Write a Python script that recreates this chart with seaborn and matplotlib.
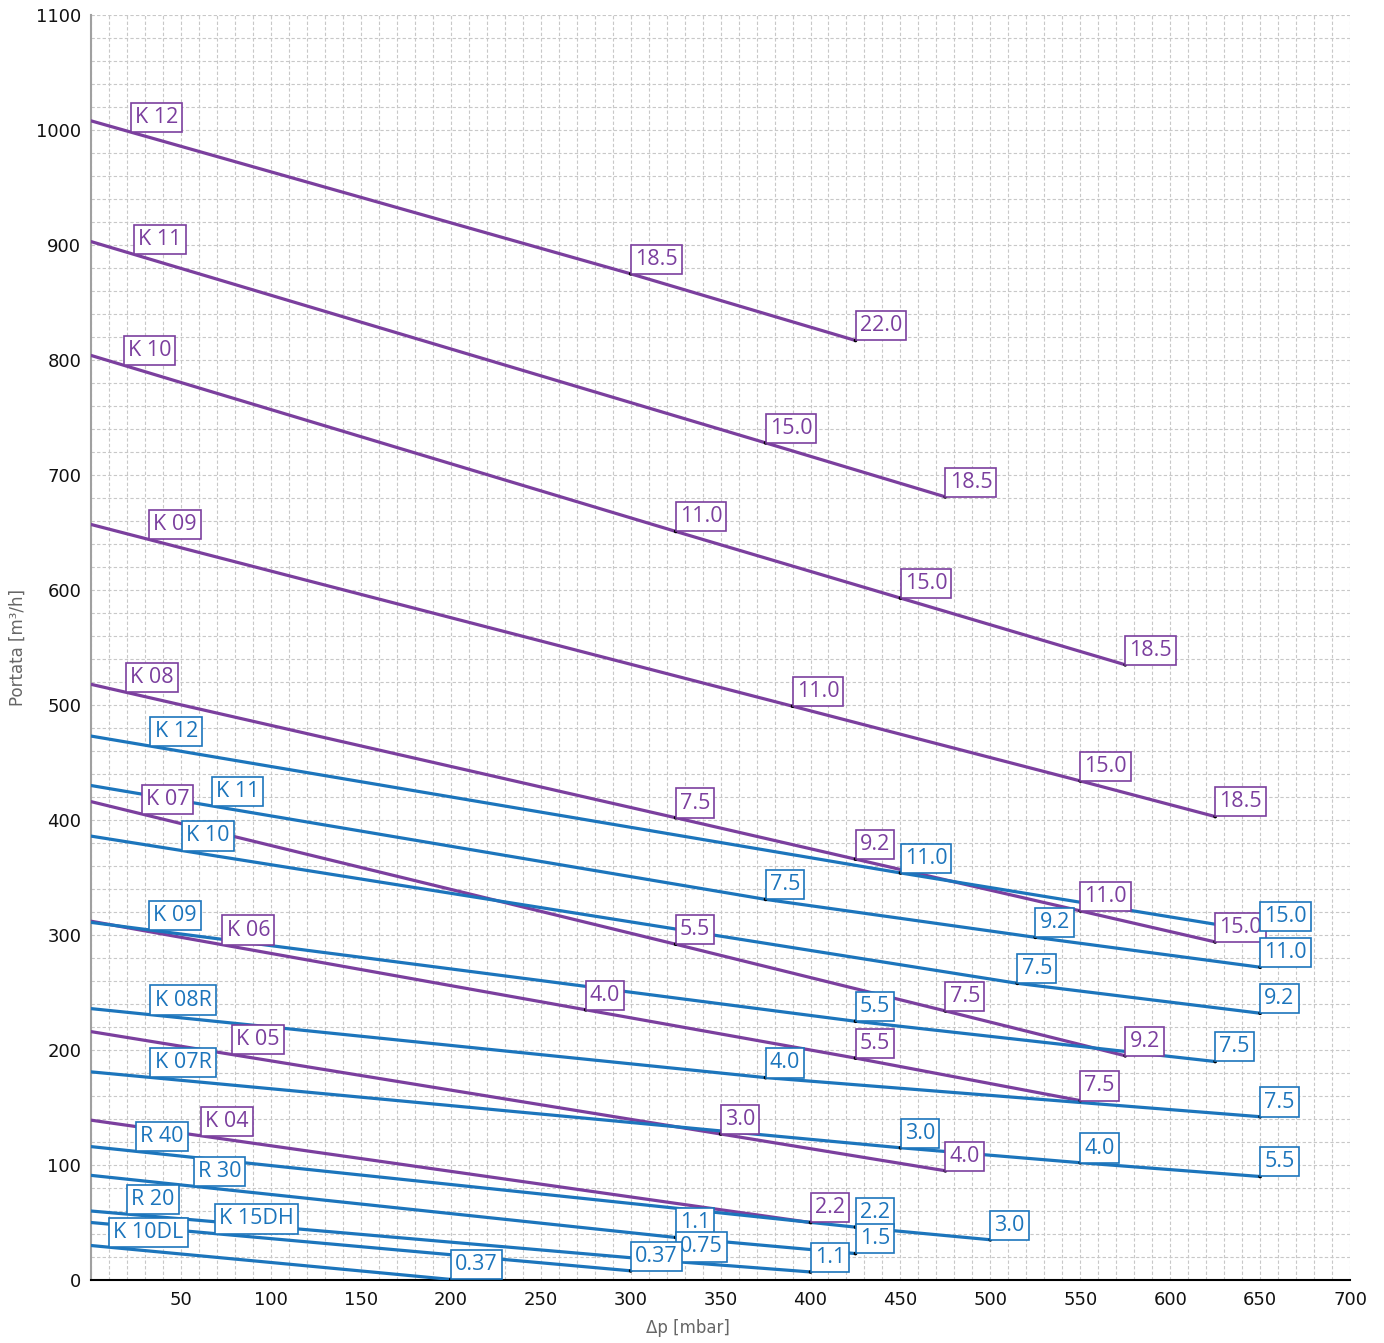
import matplotlib
matplotlib.use("Agg")
import numpy as np
import matplotlib.pyplot as plt
from matplotlib.ticker import MultipleLocator
import seaborn as sns

# curve viola: dp [mbar], portata [m3/h], potenze [kW] sui punti dopo lo 0
v_k12_dp = [0, 300, 425]
v_k12_q = [1008, 875, 817]
v_k12_kw = ["18.5", "22.0"]
v_k11_dp = [0, 375, 475]
v_k11_q = [903, 728, 681]
v_k11_kw = ["15.0", "18.5"]
v_k10_dp = [0, 325, 450, 575]
v_k10_q = [804, 651, 593, 535]
v_k10_kw = ["11.0", "15.0", "18.5"]
v_k09_dp = [0, 390, 550, 625]
v_k09_q = [657, 499, 434, 403]
v_k09_kw = ["11.0", "15.0", "18.5"]
v_k08_dp = [0, 325, 425, 550, 625]
v_k08_q = [518, 402, 366, 321, 294]
v_k08_kw = ["7.5", "9.2", "11.0", "15.0"]
v_k07_dp = [0, 325, 475, 575]
v_k07_q = [416, 292, 234, 195]
v_k07_kw = ["5.5", "7.5", "9.2"]
v_k06_dp = [0, 275, 425, 550]
v_k06_q = [312, 235, 193, 156]
v_k06_kw = ["4.0", "5.5", "7.5"]
v_k05_dp = [0, 350, 475]
v_k05_q = [216, 127, 95]
v_k05_kw = ["3.0", "4.0"]
v_k04_dp = [0, 400]
v_k04_q = [139, 50]
v_k04_kw = ["2.2"]

# curve blu
b_k12_dp = [0, 450, 650]
b_k12_q = [473, 354, 303]
b_k12_kw = ["11.0", "15.0"]
b_k11_dp = [0, 375, 525, 650]
b_k11_q = [430, 331, 298, 272]
b_k11_kw = ["7.5", "9.2", "11.0"]
b_k10_dp = [0, 515, 650]
b_k10_q = [386, 258, 232]
b_k10_kw = ["7.5", "9.2"]
b_k09_dp = [0, 425, 625]
b_k09_q = [311, 225, 190]
b_k09_kw = ["5.5", "7.5"]
b_k08r_dp = [0, 375, 650]
b_k08r_q = [236, 176, 142]
b_k08r_kw = ["4.0", "7.5"]
b_k07r_dp = [0, 450, 550, 650]
b_k07r_q = [181, 115, 102, 90]
b_k07r_kw = ["3.0", "4.0", "5.5"]
b_r40_dp = [0, 425, 500]
b_r40_q = [116, 46, 35]
b_r40_kw = ["2.2", "3.0"]
b_r30_dp = [0, 325, 425]
b_r30_q = [91, 37, 23]
b_r30_kw = ["1.1", "1.5"]
b_r20_dp = [0, 325, 400]
b_r20_q = [60, 16, 7]
b_r20_kw = ["0.75", "1.1"]
b_k15dh_dp = [0, 300]
b_k15dh_q = [50, 8]
b_k15dh_kw = ["0.37"]
b_k10dl_dp = [0, 200]
b_k10dl_q = [30, 0.5]
b_k10dl_kw = ["0.37"]

viola = [
    ("K 12", v_k12_dp, v_k12_q, v_k12_kw),
    ("K 11", v_k11_dp, v_k11_q, v_k11_kw),
    ("K 10", v_k10_dp, v_k10_q, v_k10_kw),
    ("K 09", v_k09_dp, v_k09_q, v_k09_kw),
    ("K 08", v_k08_dp, v_k08_q, v_k08_kw),
    ("K 07", v_k07_dp, v_k07_q, v_k07_kw),
    ("K 06", v_k06_dp, v_k06_q, v_k06_kw),
    ("K 05", v_k05_dp, v_k05_q, v_k05_kw),
    ("K 04", v_k04_dp, v_k04_q, v_k04_kw),
]
blu = [
    ("K 12", b_k12_dp, b_k12_q, b_k12_kw),
    ("K 11", b_k11_dp, b_k11_q, b_k11_kw),
    ("K 10", b_k10_dp, b_k10_q, b_k10_kw),
    ("K 09", b_k09_dp, b_k09_q, b_k09_kw),
    ("K 08R", b_k08r_dp, b_k08r_q, b_k08r_kw),
    ("K 07R", b_k07r_dp, b_k07r_q, b_k07r_kw),
    ("R 40", b_r40_dp, b_r40_q, b_r40_kw),
    ("R 30", b_r30_dp, b_r30_q, b_r30_kw),
    ("R 20", b_r20_dp, b_r20_q, b_r20_kw),
    ("K 15DH", b_k15dh_dp, b_k15dh_q, b_k15dh_kw),
    ("K 10DL", b_k10dl_dp, b_k10dl_q, b_k10dl_kw),
]

# dove mettere il nome lungo la curva (dp)
nome_x_viola = [22, 24, 18, 32, 19.5, 28, 73, 78.5, 61]
nome_x_blu = [33, 67, 50.6, 32, 33, 33, 25, 57, 20, 69, 10]

VIOLA = "#7b3f9e"
BLU = "#1c75bc"

sns.set_theme(style="white")
plt.rcParams["font.family"] = ["DejaVu Sans"]

fig = plt.figure(figsize=(13.84, 13.43), dpi=100)
ax = fig.add_axes([0.0658, 0.0469, 0.9097, 0.9419])


def etichetta(x, y, testo, colore):
    ax.annotate(testo, (x, y), xytext=(3.0, 3.0), textcoords="offset points",
                ha="left", va="bottom", fontsize=15.5, color=colore, zorder=6,
                family=["Open Sans", "DejaVu Sans"],
                bbox=dict(boxstyle="square,pad=0.19", fc="white", ec=colore, lw=1.2))


for curve, nomi_x, colore in [(viola, nome_x_viola, VIOLA), (blu, nome_x_blu, BLU)]:
    for (nome, dp, q, kw), nx in zip(curve, nomi_x):
        sns.lineplot(x=dp, y=q, ax=ax, color=colore, lw=2.3, sort=False,
                     estimator=None, zorder=3)
        sns.scatterplot(x=dp[1:], y=q[1:], ax=ax, color="black", s=7,
                        edgecolor="none", zorder=4)

for curve, nomi_x, colore in [(viola, nome_x_viola, VIOLA), (blu, nome_x_blu, BLU)]:
    for (nome, dp, q, kw), nx in zip(curve, nomi_x):
        etichetta(nx, np.interp(nx, dp, q), nome, colore)
        for x, y, t in zip(dp[1:], q[1:], kw):
            etichetta(x, y, t, colore)

ax.set_xlim(0, 700)
ax.set_ylim(0, 1100)
ax.set_xticks(range(0, 701, 50))
ax.set_xticklabels([""] + [str(v) for v in range(50, 701, 50)])
ax.set_yticks(range(0, 1101, 100))
ax.xaxis.set_minor_locator(MultipleLocator(10))
ax.yaxis.set_minor_locator(MultipleLocator(20))
ax.grid(True, which="both", ls=(0, (3, 2)), color="#c8c8c8", lw=0.8)
ax.set_axisbelow(True)

ax.tick_params(axis="x", which="major", direction="in", length=8, width=1.2,
               color="black", labelsize=13, labelcolor="#111111", pad=8)
ax.tick_params(axis="x", which="minor", direction="in", length=4, width=1.0,
               color="black")
ax.tick_params(axis="y", which="both", length=0, labelsize=13,
               labelcolor="#111111", pad=7)

for s in ["top", "right"]:
    ax.spines[s].set_visible(False)
ax.spines["left"].set_color("#a0a0a0")
ax.spines["left"].set_linewidth(1.5)
ax.spines["bottom"].set_color("black")
ax.spines["bottom"].set_linewidth(1.5)

ax.set_xlabel("Δp [mbar]", fontsize=12, color="#666666")
ax.set_ylabel("Portata [m³/h]", fontsize=12, color="#666666")
ax.xaxis.set_label_coords(0.474, -0.031)
ax.yaxis.set_label_coords(-0.051, 0.5)

fig.savefig("out.png", dpi=100)
